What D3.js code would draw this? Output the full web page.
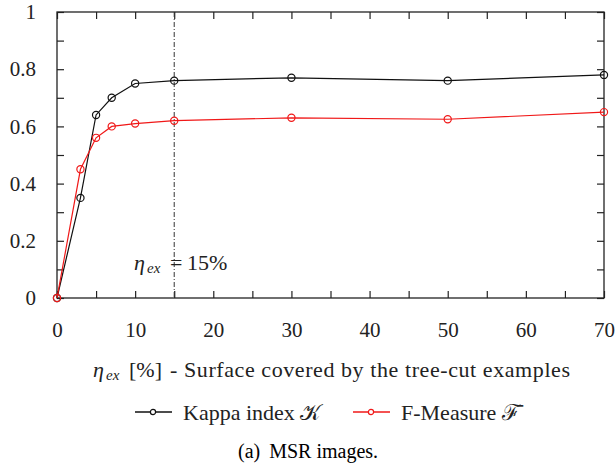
<!DOCTYPE html>
<html>
<head>
<meta charset="utf-8">
<script src="https://cdn.jsdelivr.net/npm/d3@7"></script>
<style>
  body { margin: 0; background: #fff; }
  svg { display: block; }
</style>
</head>
<body>
<svg id="chart" width="616" height="471"></svg>
<script>
// data
const ratios = [0, 3, 5, 7, 10, 15, 30, 50, 70];           // eta_ex in %
const kappa  = [0, 0.35, 0.64, 0.70, 0.75, 0.76, 0.77, 0.76, 0.78];
const fmeas  = [0, 0.45, 0.56, 0.60, 0.61, 0.62, 0.63, 0.625, 0.65];
const xTicks = [0, 5, 10, 15, 20, 25, 30, 35, 40, 45, 50, 55, 60, 65, 70];
const yTicks = [0, 0.1, 0.2, 0.3, 0.4, 0.5, 0.6, 0.7, 0.8, 0.9, 1];
const marker = 15;  // the dash-dot reference line

const FONT = '"Liberation Serif", serif';
const svg = d3.select("#chart").style("font-family", FONT);
const margin = { top: 12, right: 12, bottom: 173, left: 57 };
const W = 616, H = 471;

const x = d3.scaleLinear().domain([0, 70]).range([margin.left, W - margin.right]);
const y = d3.scaleLinear().domain([0, 1]).range([H - margin.bottom, margin.top]);

// axes: ticks pointing inwards on all four sides
const fmtY = d => (Math.round(d * 10) % 2 === 0 ? String(+d.toFixed(1)) : "");
const fmtX = d => (d % 10 === 0 ? d : "");

const gB = svg.append("g").attr("transform", `translate(0,${y(0)})`)
  .call(d3.axisBottom(x).tickValues(xTicks).tickFormat(fmtX).tickSizeInner(-7).tickSizeOuter(0).tickPadding(24));
const gT = svg.append("g").attr("transform", `translate(0,${y(1)})`)
  .call(d3.axisTop(x).tickValues(xTicks).tickFormat("").tickSizeInner(-7).tickSizeOuter(0));
const gL = svg.append("g").attr("transform", `translate(${x(0)},0)`)
  .call(d3.axisLeft(y).tickValues(yTicks).tickFormat(fmtY).tickSizeInner(-7).tickSizeOuter(0).tickPadding(21));
const gR = svg.append("g").attr("transform", `translate(${x(70)},0)`)
  .call(d3.axisRight(y).tickValues(yTicks).tickFormat("").tickSizeInner(-7).tickSizeOuter(0));

[gB, gT, gL, gR].forEach(g => {
  g.select(".domain").remove();
  g.attr("font-family", null).attr("font-size", null);
  g.selectAll(".tick line").attr("stroke", "#222").attr("stroke-width", 1.2);
  g.selectAll("text").style("font-family", FONT).style("font-size", "21px").attr("fill", "#222");
});

// frame
svg.append("rect")
  .attr("x", x(0)).attr("y", y(1))
  .attr("width", x(70) - x(0)).attr("height", y(0) - y(1))
  .attr("fill", "none").attr("stroke", "#222").attr("stroke-width", 1.3);

// dash-dot line at 15 %
svg.append("line")
  .attr("x1", x(marker)).attr("x2", x(marker))
  .attr("y1", y(1)).attr("y2", y(0))
  .attr("stroke", "#333").attr("stroke-width", 1)
  .attr("stroke-dasharray", "5,2,1,2");

// annotation  "eta_ex = 15%"
const ann = svg.append("text").attr("y", 270).style("font-size", "22px").attr("fill", "#222");
ann.append("tspan").attr("x", 134).attr("font-style", "italic").text("η");
ann.append("tspan").attr("x", 147).attr("font-style", "italic").style("font-size", "15px").attr("dy", 3).text("ex");
ann.append("tspan").attr("x", 170).attr("dy", -3).text("=");
ann.append("tspan").attr("x", 187).text("15%");

// series
const series = [
  { name: "kappa", values: kappa, color: "#111" },
  { name: "fmeas", values: fmeas, color: "#f01818" }
];
const line = d3.line().x(d => x(d[0])).y(d => y(d[1]));

series.forEach(s => {
  const pts = ratios.map((r, i) => [r, s.values[i]]);
  svg.append("path").datum(pts)
    .attr("d", line).attr("fill", "none")
    .attr("stroke", s.color).attr("stroke-width", 1.2);
  svg.selectAll(null).data(pts).enter().append("circle")
    .attr("cx", d => x(d[0])).attr("cy", d => y(d[1])).attr("r", 3.6)
    .attr("fill", "none").attr("stroke", s.color).attr("stroke-width", 1.2);
});

// x axis title
const xt = svg.append("text").attr("y", 377).style("font-size", "22px").attr("fill", "#222");
xt.append("tspan").attr("x", 93).attr("font-style", "italic").text("η");
xt.append("tspan").attr("x", 106).attr("font-style", "italic").style("font-size", "15px").attr("dy", 3).text("ex");
xt.append("tspan").attr("x", 129).attr("dy", -3).text("[%]");
xt.append("tspan").attr("x", 170).attr("textLength", 400).attr("lengthAdjust", "spacing")
  .text("- Surface covered by the tree-cut examples");

// legend
const legend = [
  { label: "Kappa index ", sym: "\u{1D4A6}", color: "#111", x0: 135 },
  { label: "F-Measure ", sym: "\u2131\u0304", color: "#f01818", x0: 353 }
];
legend.forEach(l => {
  const g = svg.append("g").attr("transform", `translate(${l.x0},412)`);
  g.append("line").attr("x1", 0).attr("x2", 37).attr("stroke", l.color).attr("stroke-width", 1.3);
  g.append("circle").attr("cx", 18).attr("r", 2.6).attr("fill", "#fff").attr("stroke", l.color).attr("stroke-width", 1.2);
  const t = g.append("text").attr("x", 48).attr("y", 8).style("font-size", "22px").attr("fill", "#222");
  t.append("tspan").text(l.label);
  t.append("tspan").text(l.sym);
});

// caption
const cap = svg.append("text").attr("x", 238).attr("y", 458).style("font-size", "20px").attr("fill", "#000");
cap.append("tspan").text("(a)");
cap.append("tspan").attr("dx", 9).text("MSR images.");
</script>
</body>
</html>
